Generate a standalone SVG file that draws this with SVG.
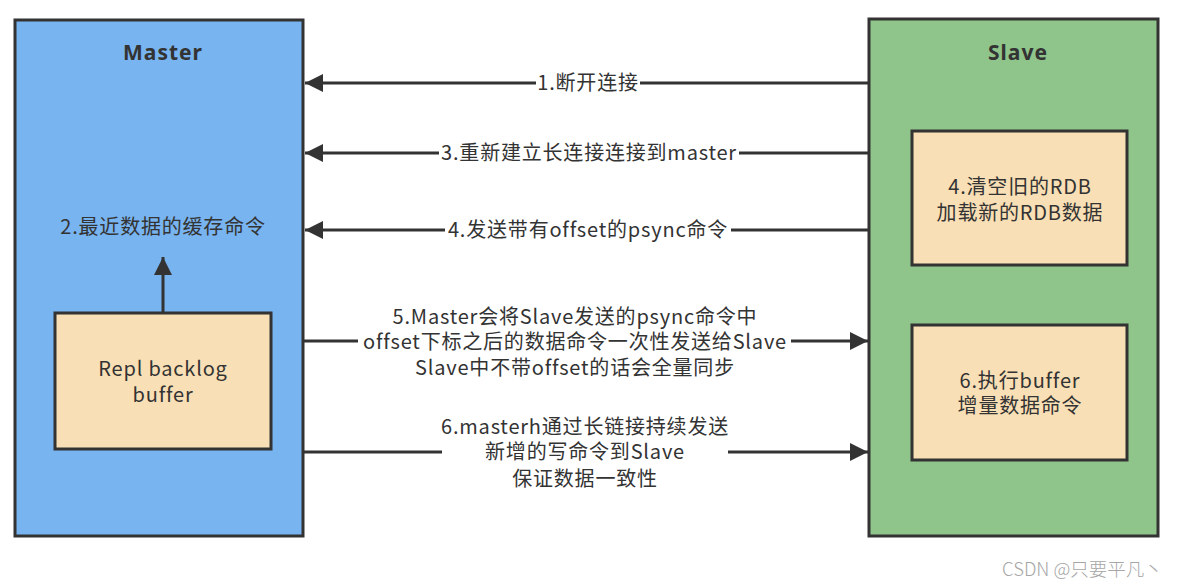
<svg xmlns="http://www.w3.org/2000/svg" width="1180" height="588" viewBox="0 0 1180 588">
<defs>
<style>
.box{stroke:#333333;stroke-width:3}
.inner{fill:#f9dfb5;stroke:#333333;stroke-width:3}
.t{font-family:"Noto Sans CJK SC","Noto Sans",sans-serif;font-size:20px;fill:#333333;text-anchor:middle;letter-spacing:0.8px}
.title{font-family:"Noto Sans","Noto Sans CJK SC",sans-serif;font-size:21px;font-weight:bold;fill:#333333;text-anchor:middle;letter-spacing:1px}
.line{stroke:#333333;stroke-width:3;fill:none}
.bg{fill:#ffffff}
.wm{font-family:"Noto Sans CJK SC","Noto Sans",sans-serif;font-size:18.5px;fill:#a6a6a6;font-weight:300}
</style>
<marker id="ah" viewBox="0 0 10 10" refX="10" refY="5" markerWidth="6.5" markerHeight="6" markerUnits="strokeWidth" orient="auto">
<path d="M0,0 L10,5 L0,10 z" fill="#333333"/>
</marker>
</defs>
<rect width="1180" height="588" fill="#ffffff"/>
<g id="master">
<rect class="box" x="15" y="20" width="288" height="516" fill="#78b4ef"/>
<text class="title" x="163" y="60">Master</text>
<text class="t" x="163" y="234">2.最近数据的缓存命令</text>
</g>
<g id="repl-backlog-buffer">
<rect class="inner" x="55" y="313" width="216" height="136"/>
<text class="t"><tspan x="163" y="376">Repl backlog</tspan><tspan x="163" y="402">buffer</tspan></text>
</g>
<g id="slave">
<rect class="box" x="869" y="19" width="289" height="517" fill="#8fc48a"/>
<text class="title" x="1018" y="60">Slave</text>
</g>
<g id="slave-rdb">
<rect class="inner" x="912" y="131" width="215" height="134"/>
<text class="t"><tspan x="1020" y="194">4.清空旧的RDB</tspan><tspan x="1020" y="220">加载新的RDB数据</tspan></text>
</g>
<g id="slave-buffer">
<rect class="inner" x="912" y="325" width="215" height="135"/>
<text class="t"><tspan x="1020" y="388">6.执行buffer</tspan><tspan x="1020" y="413">增量数据命令</tspan></text>
</g>
<g id="connectors">
<line class="line" x1="163" y1="313" x2="163" y2="257" marker-end="url(#ah)"/>
<line class="line" x1="869" y1="83" x2="305" y2="83" marker-end="url(#ah)"/>
<line class="line" x1="869" y1="153" x2="305" y2="153" marker-end="url(#ah)"/>
<line class="line" x1="869" y1="230" x2="305" y2="230" marker-end="url(#ah)"/>
<line class="line" x1="304" y1="341" x2="868" y2="341" marker-end="url(#ah)"/>
<line class="line" x1="304" y1="452" x2="868" y2="452" marker-end="url(#ah)"/>
<rect class="bg" x="536" y="73" width="104" height="21"/>
<text class="t" x="588" y="90">1.断开连接</text>
<rect class="bg" x="439" y="143" width="300" height="21"/>
<text class="t" x="589" y="160">3.重新建立长连接连接到master</text>
<rect class="bg" x="445" y="220" width="286" height="21"/>
<text class="t" x="588" y="237">4.发送带有offset的psync命令</text>
<rect class="bg" x="358" y="331" width="433" height="21"/>
<text class="t"><tspan x="575" y="324">5.Master会将Slave发送的psync命令中</tspan><tspan x="575" y="349">offset下标之后的数据命令一次性发送给Slave</tspan><tspan x="575" y="375">Slave中不带offset的话会全量同步</tspan></text>
<rect class="bg" x="442" y="442" width="286" height="21"/>
<text class="t"><tspan x="585" y="434">6.masterh通过长链接持续发送</tspan><tspan x="585" y="459">新增的写命令到Slave</tspan><tspan x="585" y="486">保证数据一致性</tspan></text>
</g>
<text class="wm" x="1002" y="576">CSDN @只要平凡丶</text>
</svg>
